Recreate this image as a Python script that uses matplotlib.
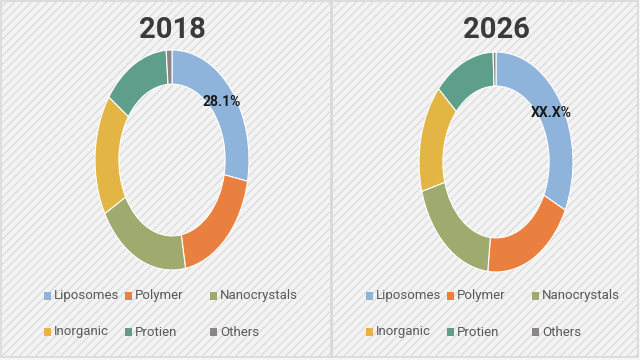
import matplotlib
matplotlib.use("Agg")
import matplotlib.pyplot as plt
from matplotlib.patches import Rectangle

categories = ["Liposomes", "Polymer", "Nanocrystals", "Inorganic", "Protien", "Others"]
share_2018 = [28.1, 19.1, 19.7, 17.8, 14.1, 1.2]
share_2026 = [32.2, 19.5, 19.0, 15.9, 12.8, 0.6]
titles = ["2018", "2026"]
labels = ["28.1%", "XX.X%"]
colors = ["#8FB4DC", "#E9803F", "#9EAA6E", "#E2B545", "#5E9E8A", "#8C8585"]

W, H = 640, 360
plt.rcParams["hatch.color"] = "#fdfdfd"
plt.rcParams["hatch.linewidth"] = 0.8
fig = plt.figure(figsize=(6.4, 3.6), dpi=100)
fig.patch.set_facecolor("#f6f6f6")

def fx(px):
    return px / W

def fy(py):
    return 1 - py / H

narrow = ["Liberation Sans Narrow", "Roboto", "DejaVu Sans"]

# panel borders
bg = fig.add_axes([0, 0, 1, 1])
bg.set_xlim(0, W)
bg.set_ylim(H, 0)
bg.axis("off")
bg.add_patch(Rectangle((1, 1), 330, 356, fill=True, facecolor="#f3f3f3",
                       edgecolor="#d9d9d9", lw=1.2, hatch="////"))
bg.add_patch(Rectangle((332, 1), 306, 356, fill=True, facecolor="#f3f3f3",
                       edgecolor="#d9d9d9", lw=1.2, hatch="////"))

panels = [
    dict(cx=172, cy=160, lab=(222, 102), leg_x=[47, 128, 213], data=share_2018),
    dict(cx=496, cy=162, lab=(551, 113), leg_x=[369, 450, 535], data=share_2026),
]

rx, ry = 77, 110
for p, title, txt in zip(panels, titles, labels):
    ax = fig.add_axes([fx(p["cx"] - rx), fy(p["cy"] + ry), 2 * rx / W, 2 * ry / H])
    ax.pie(p["data"], colors=colors, startangle=90, counterclock=False,
           radius=1.0, wedgeprops=dict(width=0.31, edgecolor="white", linewidth=0.8))
    ax.set_aspect("auto")
    ax.set_xlim(-1, 1)
    ax.set_ylim(-1, 1)
    ax.axis("off")
    fig.text(fx(p["cx"]), fy(30), title, ha="center", va="center",
             fontsize=21, fontweight="bold", color="#3a3a3a", family=narrow)
    fig.text(fx(p["lab"][0]), fy(p["lab"][1]), txt, ha="center", va="center",
             fontsize=10, fontweight="bold", color="#1a1a1a", family=narrow)
    rows_y = [296, 332]
    for i, (cat, col) in enumerate(zip(categories, colors)):
        r, c = divmod(i, 3)
        x0 = p["leg_x"][c]
        y0 = rows_y[r]
        bg.add_patch(Rectangle((x0 - 3.5, y0 - 4), 7, 8, facecolor=col, edgecolor="none"))
        bg.text(x0 + 7, y0, cat, ha="left", va="center", fontsize=9.5,
                color="#595959", family=narrow)

fig.savefig("out.png", dpi=100, facecolor=fig.get_facecolor())
